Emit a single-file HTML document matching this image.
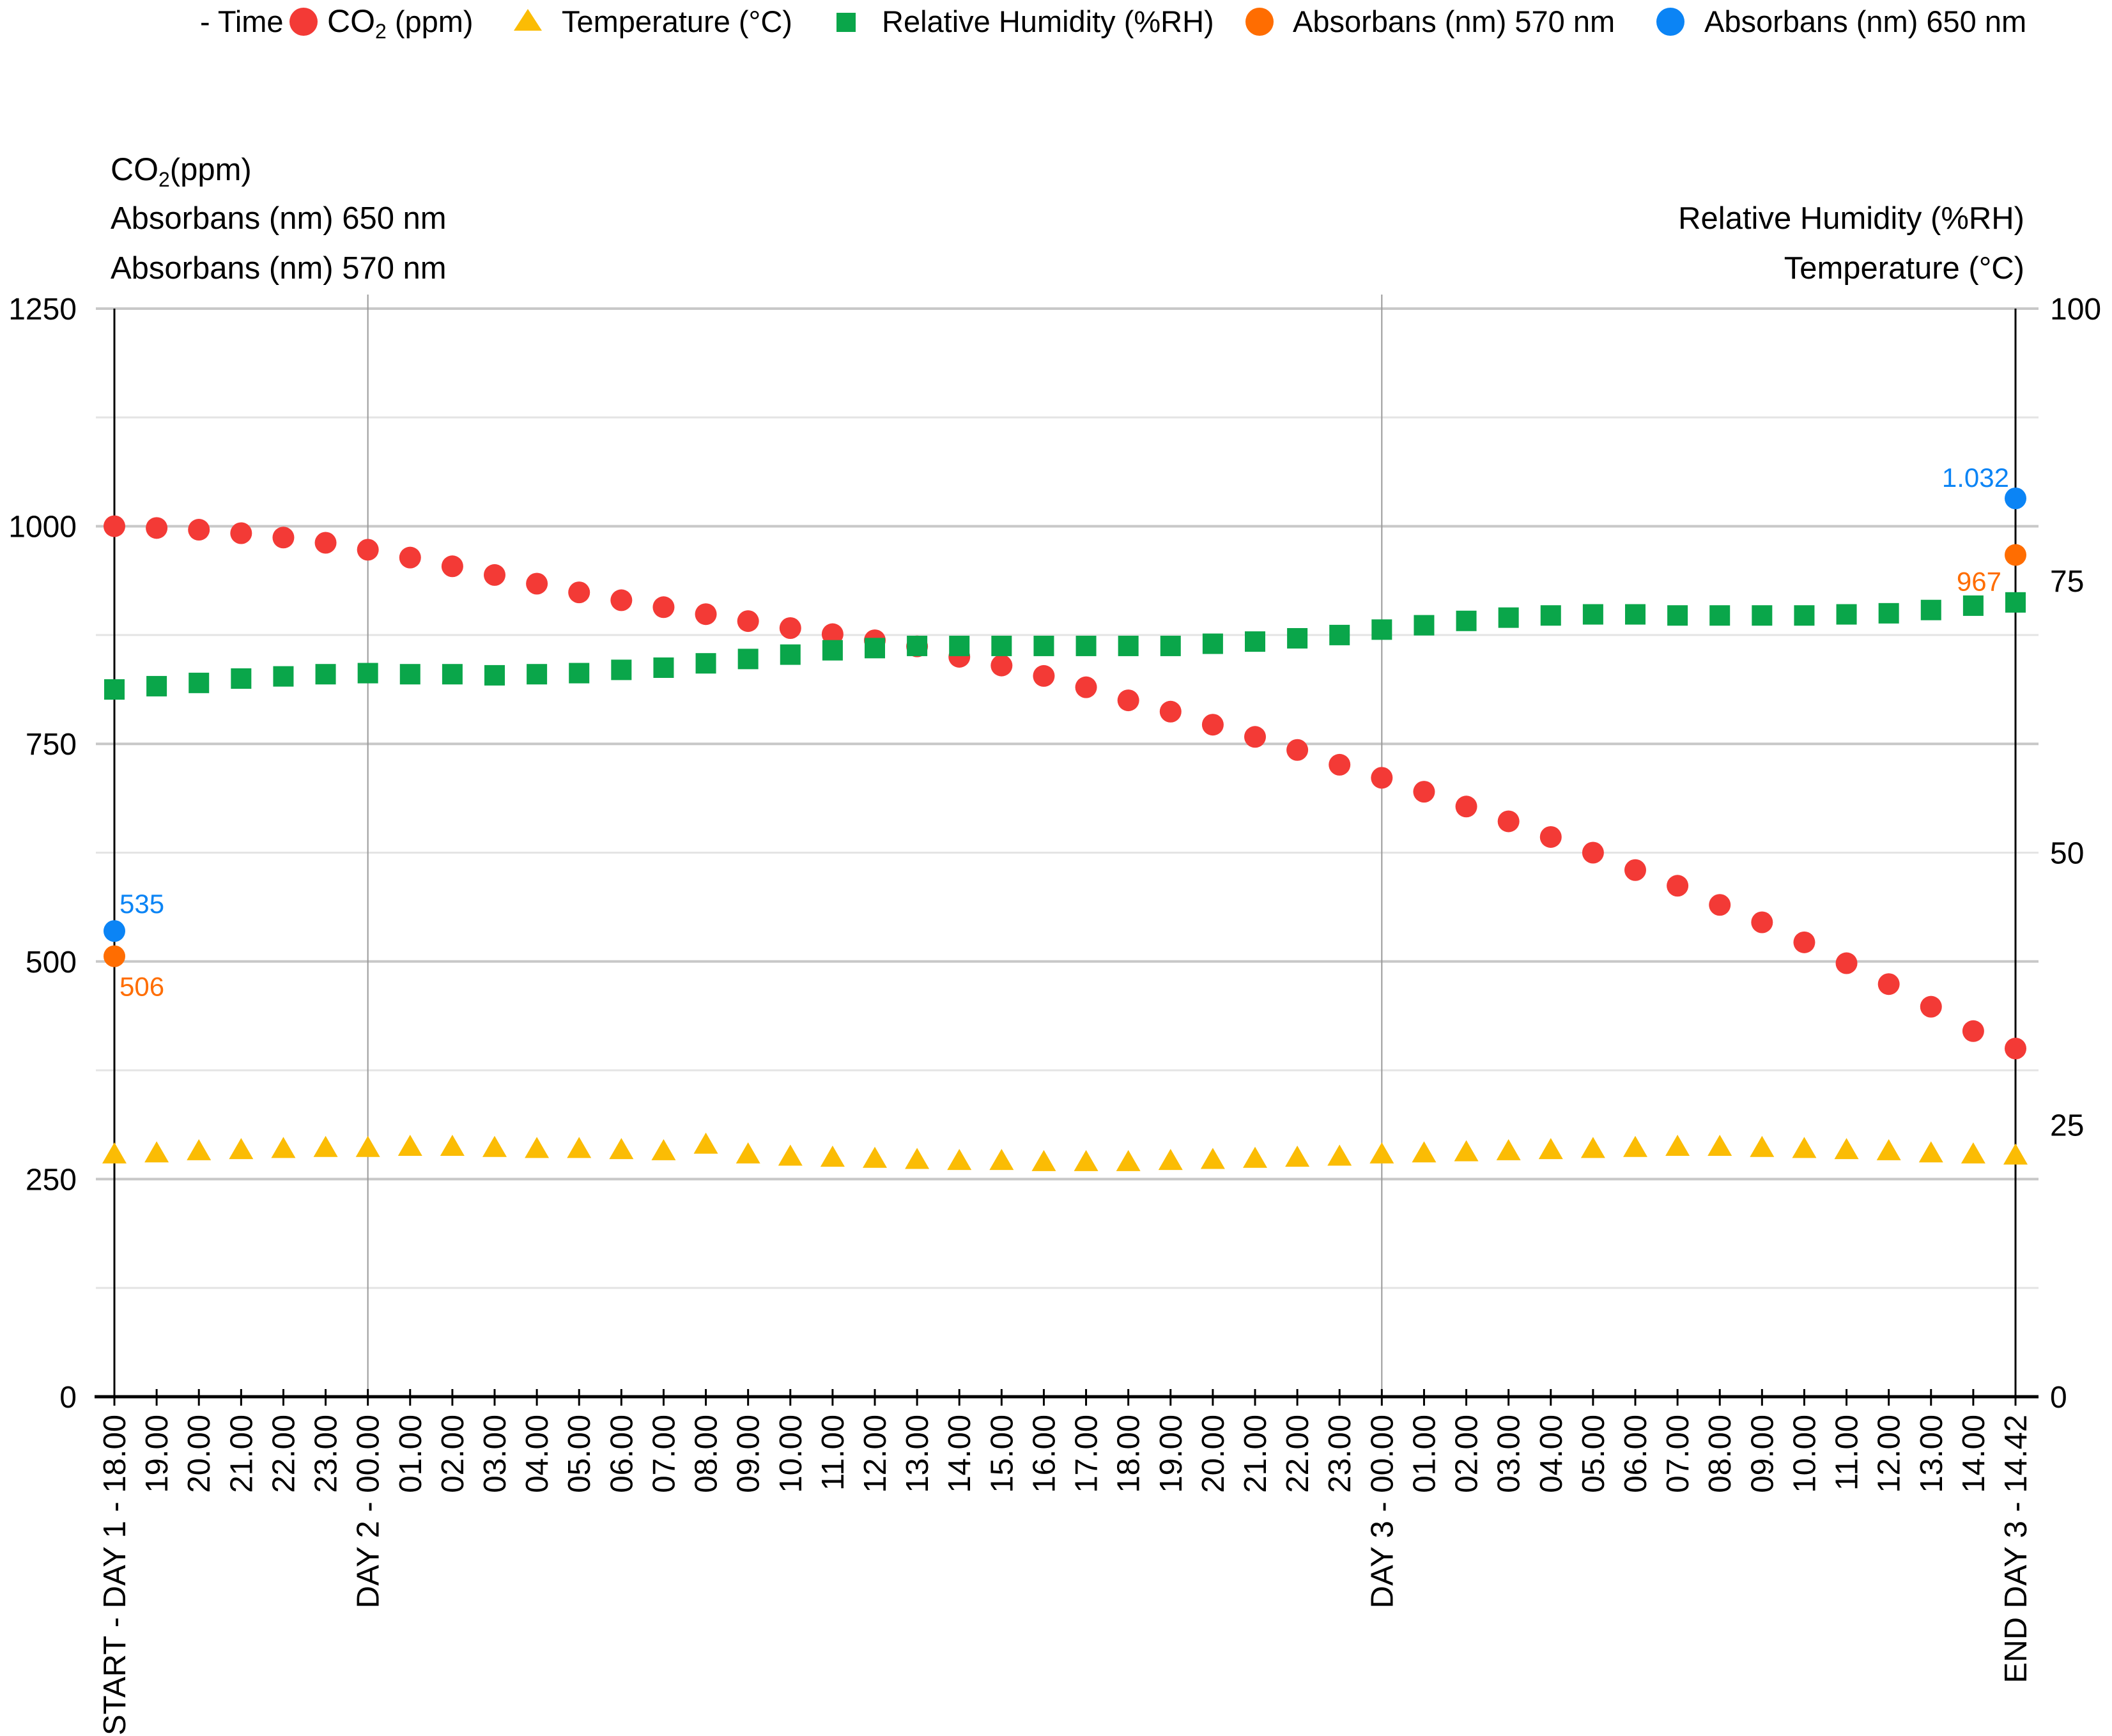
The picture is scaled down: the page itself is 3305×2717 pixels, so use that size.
<!DOCTYPE html>
<html><head><meta charset="utf-8"><style>
html,body{margin:0;padding:0;background:#fff;}
svg{display:block;font-family:"Liberation Sans",Arial,sans-serif;}
</style></head><body>
<svg id="chart" width="3305" height="2717" viewBox="0 0 3305 2717" xmlns="http://www.w3.org/2000/svg">
<g id="legend" font-size="47" fill="#000">
  <text x="313" y="50">- Time</text>
  <circle cx="475" cy="34" r="22" fill="#f33a36"/>
  <text x="512" y="50" font-size="50">CO<tspan font-size="32" dy="10">2</tspan><tspan dy="-10" font-size="47"> (ppm)</tspan></text>
  <polygon points="826,14 848,48 804,48" fill="#fbbc04"/>
  <text x="879" y="50">Temperature (°C)</text>
  <rect x="1309" y="20" width="30" height="30" fill="#0aa64a"/>
  <text x="1380" y="50">Relative Humidity (%RH)</text>
  <circle cx="1971" cy="34" r="22" fill="#ff6d01"/>
  <text x="2023" y="50">Absorbans (nm) 570 nm</text>
  <circle cx="2614" cy="34" r="22" fill="#0b84f5"/>
  <text x="2667" y="50">Absorbans (nm) 650 nm</text>
</g>
<g font-size="49" fill="#000">
  <text x="173" y="282" font-size="50">CO<tspan font-size="32" dy="10">2</tspan><tspan dy="-10" font-size="49">(ppm)</tspan></text>
  <text x="173" y="358">Absorbans (nm) 650 nm</text>
  <text x="173" y="436">Absorbans (nm) 570 nm</text>
  <text x="3168" y="358" text-anchor="end">Relative Humidity (%RH)</text>
  <text x="3168" y="436" text-anchor="end">Temperature (°C)</text>
</g>
<g id="grid"></g>
<g id="axes"></g>
<g id="marks"></g>
</svg>
<script>
const xLabels = ["START - DAY 1 - 18.00","19.00","20.00","21.00","22.00","23.00","DAY 2 - 00.00","01.00","02.00","03.00","04.00","05.00","06.00","07.00","08.00","09.00","10.00","11.00","12.00","13.00","14.00","15.00","16.00","17.00","18.00","19.00","20.00","21.00","22.00","23.00","DAY 3 - 00.00","01.00","02.00","03.00","04.00","05.00","06.00","07.00","08.00","09.00","10.00","11.00","12.00","13.00","14.00","END DAY 3 - 14.42"];
const co2 = [1000,998,996,992,987,981,973,964,954,944,934,924,915,907,899,891,883,876,869,862,850,840,828,815,800,787,772,758,743,726,711,695,678,661,643,625,605,587,565,545,522,498,474,448,420,400];
const humidity = [65,65.3,65.6,66,66.2,66.4,66.5,66.4,66.4,66.3,66.4,66.5,66.8,67,67.4,67.8,68.2,68.6,68.8,69,69,69,69,69,69,69,69.2,69.4,69.7,70,70.5,70.9,71.3,71.6,71.8,71.9,71.9,71.8,71.8,71.8,71.8,71.9,72,72.3,72.7,73];
const temperature = [22.2,22.3,22.5,22.6,22.7,22.8,22.8,22.9,22.9,22.8,22.7,22.7,22.6,22.5,23.1,22.2,22.0,21.9,21.8,21.7,21.6,21.6,21.5,21.5,21.5,21.6,21.7,21.8,21.9,22.0,22.2,22.3,22.4,22.5,22.6,22.7,22.8,22.9,22.9,22.8,22.7,22.6,22.5,22.3,22.2,22.1];
const abs570 = [[0,506],[45,967]];
const abs570Labels = ["506","967"];
const abs650 = [[0,535],[45,1032]];
const abs650Labels = ["535","1.032"];
const leftTicks = [0,250,500,750,1000,1250];
const rightTicks = [0,25,50,75,100];
const dayMarkers = [6,30];

const NS="http://www.w3.org/2000/svg";
const X0=179, X1=3154, YT=483, YB=2186;
const xS=i=>X0+(X1-X0)*i/(xLabels.length-1);
const yL=v=>YB-(YB-YT)*v/1250;
const yR=v=>YB-(YB-YT)*v/100;
function mk(tag,attrs,parent){const e=document.createElementNS(NS,tag);for(const k in attrs)e.setAttribute(k,attrs[k]);parent.appendChild(e);return e;}
const grid=document.getElementById('grid'),axes=document.getElementById('axes'),marks=document.getElementById('marks');

for(let v=125;v<=1250;v+=125){
  const l=mk('line',{x1:150,x2:3190,y1:yL(v),y2:yL(v),stroke:v%250===0?'#c8c8c8':'#e4e4e4','stroke-width':v%250===0?4:3},grid);
  
  
}
dayMarkers.forEach(i=>{
  const l=mk('line',{x1:xS(i),x2:xS(i),y1:461,y2:YB,stroke:'#999','stroke-width':2},grid);
  
  
});
[X0,X1].forEach(x=>{
  const l=mk('line',{x1:x,x2:x,y1:YT,y2:YB,stroke:'#000','stroke-width':3},axes);
  
  
});
const xa=mk('line',{x1:148,x2:3190,y1:YB,y2:YB,stroke:'#000','stroke-width':5},axes);


leftTicks.forEach(v=>{
  const t=mk('text',{x:120,y:yL(v)+17,'text-anchor':'end','font-size':48},axes);
  t.textContent=v;
  
  
});
rightTicks.forEach(v=>{
  const t=mk('text',{x:3208,y:yR(v)+17,'font-size':48},axes);
  t.textContent=v;
  
  
});
xLabels.forEach((lab,i)=>{
  const x=xS(i);
  const tk=mk('line',{x1:x,x2:x,y1:YB-12,y2:YB+14,stroke:'#000','stroke-width':3},axes);
  
  
  const t=mk('text',{x:0,y:0,'text-anchor':'end','font-size':49,transform:`translate(${x+17},${YB+28}) rotate(-90)`},axes);
  t.textContent=lab;
  
  
});
temperature.forEach((v,i)=>{
  const x=xS(i),y=yR(v);
  const p=mk('polygon',{points:`${x},${y-20} ${x+19},${y+13} ${x-19},${y+13}`,fill:'#fbbc04'},marks);
  
  
});
co2.forEach((v,i)=>{
  const c=mk('circle',{cx:xS(i),cy:yL(v),r:17,fill:'#f33a36'},marks);
  
  
});
humidity.forEach((v,i)=>{
  const r=mk('rect',{x:xS(i)-16,y:yR(v)-16,width:32,height:32,fill:'#0aa64a'},marks);
  
  
});
abs570.forEach((d,k)=>{
  const c=mk('circle',{cx:xS(d[0]),cy:yL(d[1]),r:17,fill:'#ff6d01'},marks);
  
  
  const t=mk('text',{x:k===0?xS(d[0])+8:xS(d[0])-22,y:yL(d[1])+(k===0?62:56),'text-anchor':k===0?'start':'end','font-size':42,fill:'#ff6d01'},marks);
  t.textContent=abs570Labels[k];
  
  
});
abs650.forEach((d,k)=>{
  const c=mk('circle',{cx:xS(d[0]),cy:yL(d[1]),r:17,fill:'#0b84f5'},marks);
  
  
  const t=mk('text',{x:k===0?xS(d[0])+8:xS(d[0])-10,y:yL(d[1])-(k===0?28:18),'text-anchor':k===0?'start':'end','font-size':42,fill:'#0b84f5'},marks);
  t.textContent=abs650Labels[k];
  
  
});
</script>
</body></html>
